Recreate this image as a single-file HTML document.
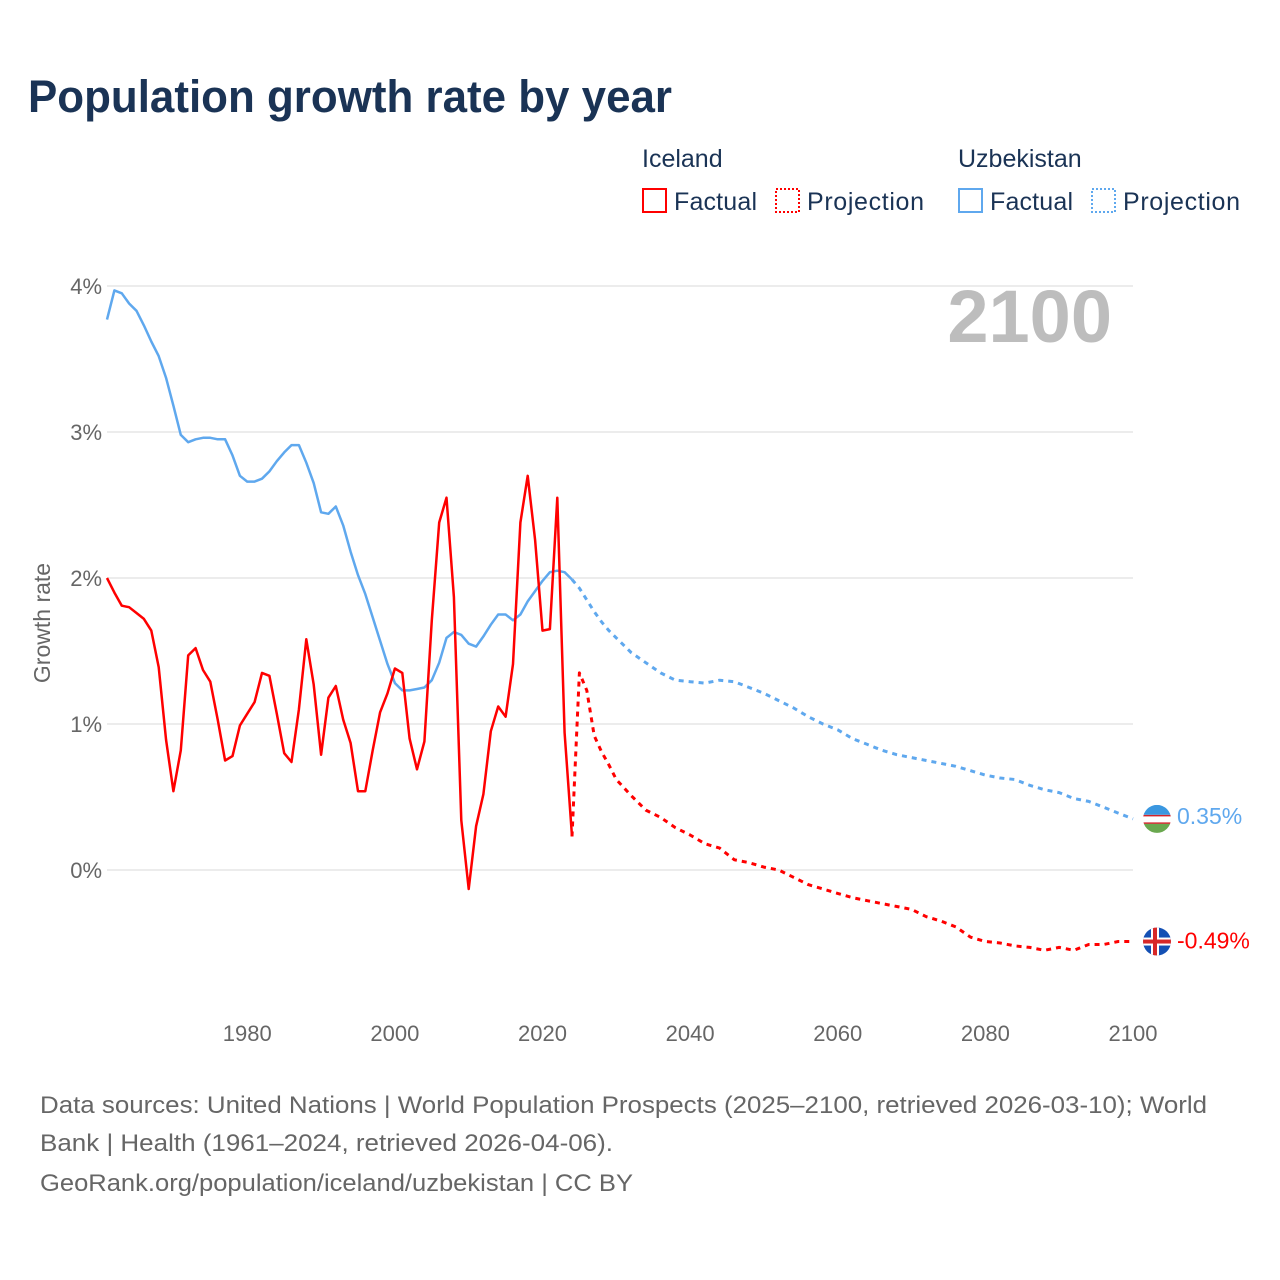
<!DOCTYPE html>
<html><head><meta charset="utf-8">
<style>
body{margin:0;background:#fff;font-family:"Liberation Sans",sans-serif;}
#wrap{position:relative;width:1280px;height:1280px;overflow:hidden;}
</style></head>
<body>
<div id="wrap">
<svg id="chart" width="1280" height="1280" xmlns="http://www.w3.org/2000/svg">
<text x="28" y="112" font-size="45" font-weight="bold" fill="#1a3355" textLength="644" lengthAdjust="spacingAndGlyphs" font-family="Liberation Sans, sans-serif">Population growth rate by year</text>
<g font-size="25" fill="#1a3355">
<text x="642" y="167">Iceland</text>
<rect x="643" y="189" width="23" height="23" fill="none" stroke="#ff0000" stroke-width="2"/>
<text x="674" y="210" textLength="83">Factual</text>
<rect x="776" y="189" width="23" height="23" fill="none" stroke="#ff0000" stroke-width="2" stroke-dasharray="2,2"/>
<text x="807" y="210" textLength="117">Projection</text>
<text x="958" y="167">Uzbekistan</text>
<rect x="959" y="189" width="23" height="23" fill="none" stroke="#5fa8ee" stroke-width="2"/>
<text x="990" y="210" textLength="83">Factual</text>
<rect x="1092" y="189" width="23" height="23" fill="none" stroke="#5fa8ee" stroke-width="2" stroke-dasharray="2,2"/>
<text x="1123" y="210" textLength="117">Projection</text>
</g>
<text x="1112" y="342" text-anchor="end" font-size="74" font-weight="bold" fill="#bdbdbd">2100</text>
<text transform="translate(50,623) rotate(-90)" text-anchor="middle" font-size="23" fill="#666">Growth rate</text>
<g id="grid"></g><g id="series"></g><g id="ends"></g>
<g font-size="24" fill="#666">
<text x="40" y="1113" textLength="1167" lengthAdjust="spacingAndGlyphs">Data sources: United Nations | World Population Prospects (2025–2100, retrieved 2026-03-10); World</text>
<text x="40" y="1151" textLength="573" lengthAdjust="spacingAndGlyphs">Bank | Health (1961–2024, retrieved 2026-04-06).</text>
<text x="40" y="1191" textLength="593" lengthAdjust="spacingAndGlyphs">GeoRank.org/population/iceland/uzbekistan | CC BY</text>
</g>
</svg>
</div>
<script>
const yTicks=[0,1,2,3,4];
const yTickLabels=["0%","1%","2%","3%","4%"];
const xTicks=[1980,2000,2020,2040,2060,2080,2100];
const factYears=[];for(let y=1961;y<=2024;y++)factYears.push(y);
const projYears=[2024,2025,2026,2027,2028,2029,2030,2032,2034,2036,2038,2040,2042,2044,2046,2048,2050,2052,2054,2056,2058,2060,2062,2064,2066,2068,2070,2072,2074,2076,2078,2080,2082,2084,2086,2088,2090,2092,2094,2096,2098,2100];
const icelandFactual=[2.0,1.90,1.81,1.80,1.76,1.72,1.64,1.39,0.89,0.54,0.82,1.47,1.52,1.37,1.29,1.03,0.75,0.78,0.99,1.07,1.15,1.35,1.33,1.07,0.80,0.74,1.10,1.58,1.27,0.79,1.18,1.26,1.03,0.87,0.54,0.54,0.82,1.08,1.21,1.38,1.35,0.90,0.69,0.88,1.71,2.38,2.55,1.87,0.34,-0.13,0.30,0.52,0.95,1.12,1.05,1.41,2.38,2.70,2.26,1.64,1.65,2.55,0.94,0.23];
const icelandProj=[0.23,1.35,1.23,0.92,0.81,0.72,0.62,0.51,0.41,0.36,0.29,0.24,0.18,0.15,0.07,0.05,0.02,0.0,-0.05,-0.10,-0.13,-0.16,-0.19,-0.21,-0.23,-0.25,-0.27,-0.32,-0.35,-0.39,-0.46,-0.49,-0.50,-0.52,-0.53,-0.55,-0.53,-0.55,-0.51,-0.51,-0.49,-0.49];
const uzbekFactual=[3.77,3.97,3.95,3.88,3.83,3.73,3.62,3.52,3.37,3.18,2.98,2.93,2.95,2.96,2.96,2.95,2.95,2.84,2.70,2.66,2.66,2.68,2.73,2.80,2.86,2.91,2.91,2.79,2.65,2.45,2.44,2.49,2.36,2.18,2.02,1.89,1.73,1.57,1.41,1.28,1.23,1.23,1.24,1.25,1.30,1.42,1.59,1.63,1.61,1.55,1.53,1.60,1.68,1.75,1.75,1.71,1.75,1.84,1.91,1.98,2.04,2.05,2.04,1.99];
const uzbekProj=[1.99,1.93,1.85,1.77,1.70,1.64,1.59,1.49,1.42,1.35,1.30,1.29,1.28,1.30,1.29,1.25,1.21,1.16,1.11,1.05,1.00,0.96,0.90,0.86,0.82,0.79,0.77,0.75,0.73,0.71,0.68,0.65,0.63,0.62,0.58,0.55,0.53,0.49,0.47,0.43,0.39,0.35];

const NS="http://www.w3.org/2000/svg";
const X=yr=>107+(yr-1961)*(1133-107)/(2100-1961);
const Y=v=>870-v*146;
const grid=document.getElementById('grid'),series=document.getElementById('series'),ends=document.getElementById('ends');
function mk(tag,attrs,parent){const e=document.createElementNS(NS,tag);for(const k in attrs)e.setAttribute(k,attrs[k]);parent.appendChild(e);return e;}
yTicks.forEach((t,i)=>{
  const l=mk('line',{x1:107,x2:1133,y1:Y(t),y2:Y(t),stroke:'#e6e6e6','stroke-width':1.5},grid);
  
  
  const tx=mk('text',{x:102,y:Y(t)+8,'text-anchor':'end','font-size':22,fill:'#666'},grid);
  tx.textContent=yTickLabels[i];
  
  
});
xTicks.forEach(t=>{
  const tx=mk('text',{x:X(t),y:1041,'text-anchor':'middle','font-size':22,fill:'#666'},grid);
  tx.textContent=t;
  
  
});
function line(years,vals,color,dash,name){
  const d=years.map((y,i)=>(i?'L':'M')+X(y).toFixed(1)+','+Y(vals[i]).toFixed(1)).join('');
  const p=mk('path',{d:d,fill:'none',stroke:color,'stroke-width':dash?3:2.5,'stroke-linejoin':'round'},series);
  if(dash)p.setAttribute('stroke-dasharray','5,5');
  
  
}
line(factYears,uzbekFactual,'#5fa8ee',false,'uzbekistan-factual-line');
line(projYears,uzbekProj,'#5fa8ee',true,'uzbekistan-projection-line');
line(factYears,icelandFactual,'#ff0000',false,'iceland-factual-line');
line(projYears,icelandProj,'#ff0000',true,'iceland-projection-line');

const uy=Y(uzbekProj[uzbekProj.length-1]),iy=Y(icelandProj[icelandProj.length-1]);
const defs=mk('defs',{},ends);
const cu=mk('clipPath',{id:'cu'},defs);mk('circle',{cx:1157,cy:uy,r:14},cu);
const ci=mk('clipPath',{id:'ci'},defs);mk('circle',{cx:1157,cy:iy,r:14},ci);
const fu=mk('g',{'clip-path':'url(#cu)'},ends);


mk('rect',{x:1143,y:uy-14,width:28,height:10,fill:'#3a97e0'},fu);
mk('rect',{x:1143,y:uy-4,width:28,height:9,fill:'#fff'},fu);
mk('rect',{x:1143,y:uy-4,width:28,height:1.5,fill:'#d2232a'},fu);
mk('rect',{x:1143,y:uy+3.5,width:28,height:1.5,fill:'#d2232a'},fu);
mk('rect',{x:1143,y:uy+5,width:28,height:10,fill:'#6aa84f'},fu);
const fi=mk('g',{'clip-path':'url(#ci)'},ends);


mk('rect',{x:1143,y:iy-14,width:28,height:28,fill:'#1450b4'},fi);
mk('rect',{x:1143,y:iy-4,width:28,height:8,fill:'#fff'},fi);
mk('rect',{x:1151,y:iy-14,width:8,height:28,fill:'#fff'},fi);
mk('rect',{x:1143,y:iy-2,width:28,height:4,fill:'#d72828'},fi);
mk('rect',{x:1153,y:iy-14,width:4,height:28,fill:'#d72828'},fi);
const lu=mk('text',{x:1177,y:uy+5,'font-size':23,fill:'#5fa8ee'},ends);
lu.textContent=uzbekProj[uzbekProj.length-1].toFixed(2)+'%';


const li=mk('text',{x:1177,y:iy+7,'font-size':23,fill:'#ff0000'},ends);
li.textContent=icelandProj[icelandProj.length-1].toFixed(2)+'%';


</script>
</body></html>
